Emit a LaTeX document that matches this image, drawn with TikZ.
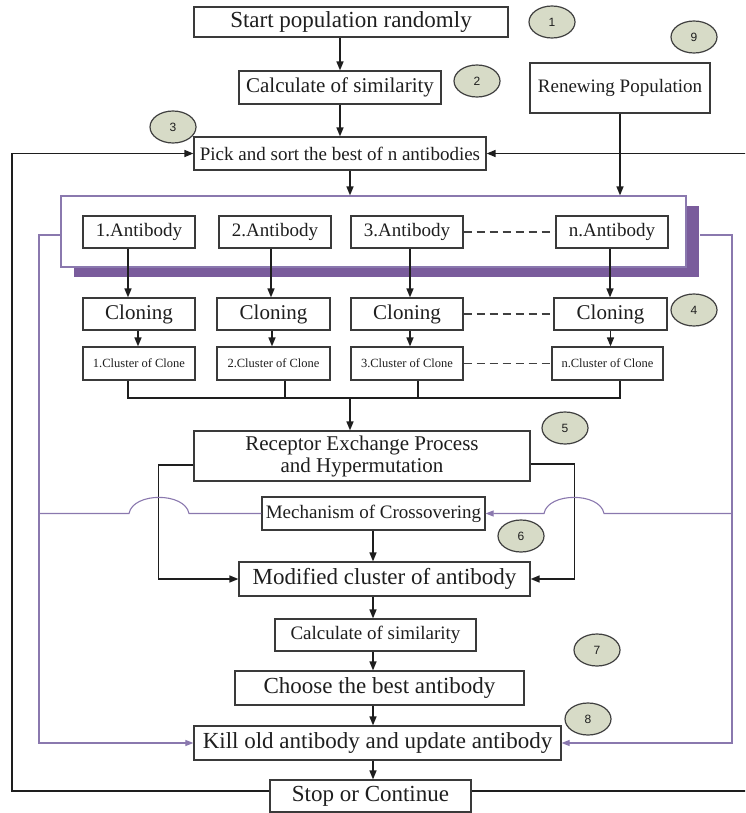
\documentclass[tikz,border=0pt]{standalone}
\usepackage{fontspec}
\setmainfont{Liberation Serif}
\newfontfamily\numfont{Liberation Sans}
\usetikzlibrary{arrows.meta,shapes.geometric}

\definecolor{ink}{HTML}{1E1E1E}
\definecolor{boxline}{HTML}{3A3A3A}
\definecolor{lilac}{HTML}{8A78AE}
\definecolor{plum}{HTML}{7A5C9C}
\definecolor{sage}{HTML}{D7DBC7}

\begin{document}
\begin{tikzpicture}[x=1pt,y=-1pt,
  box/.style={draw=boxline, line width=1.2pt, fill=white, inner sep=0pt,
              align=center, text=ink},
  fs/.style={font=\fontsize{#1}{#1}\selectfont},
  link/.style={draw=ink, line width=1.5pt},
  flow/.style={link, -{Triangle[length=9pt,width=7pt]}},
  plink/.style={draw=lilac, line width=1.1pt},
  parrow/.style={plink, -{Triangle[length=8pt,width=6pt]}},
  dashlink/.style={draw=ink!85, line width=1.1pt, dash pattern=on 8pt off 5pt},
  badge/.style={ellipse, draw=ink!85, line width=1.2pt, fill=sage, text=ink,
                minimum width=46pt, minimum height=32pt, inner sep=0pt,
                font=\numfont\fontsize{12}{12}\selectfont}
]
\useasboundingbox (0,0) rectangle (745,813);
\clip (0,0) rectangle (745,813);

% ---- top of the flow
\node[box, fs=23, minimum width=314pt, minimum height=30pt] (start) at (351,22) {Start population randomly};
\node[box, fs=21, minimum width=202pt, minimum height=33pt] (sim1) at (340,87.5) {Calculate of similarity};
\node[box, fs=19, minimum width=180pt, minimum height=50pt] (renew) at (620,88) {Renewing Population};
\node[box, fs=19, minimum width=292pt, minimum height=33pt] (pick) at (340,153.5) {Pick and sort the best of n antibodies};

% ---- antibody group with its shadow
\fill[plum] (74,206) rectangle (699,277);
\node[draw=lilac, line width=1.2pt, fill=white, minimum width=625pt, minimum height=71pt, inner sep=0pt] (grp) at (373.5,231.5) {};

\node[box, fs=19, minimum width=112pt, minimum height=32pt] (ab1) at (139,232) {1.Antibody};
\node[box, fs=19, minimum width=112pt, minimum height=32pt] (ab2) at (275,232) {2.Antibody};
\node[box, fs=19, minimum width=112pt, minimum height=32pt] (ab3) at (407,232) {3.Antibody};
\node[box, fs=19, minimum width=112pt, minimum height=32pt] (abn) at (612,232) {n.Antibody};

\node[box, fs=21, minimum width=112pt, minimum height=32pt] (cl1) at (139,314) {Cloning};
\node[box, fs=21, minimum width=113pt, minimum height=32pt] (cl2) at (273.5,314) {Cloning};
\node[box, fs=21, minimum width=112pt, minimum height=32pt] (cl3) at (407,314) {Cloning};
\node[box, fs=21, minimum width=113pt, minimum height=32pt] (cln) at (610.5,314) {Cloning};

\node[box, fs=12.5, minimum width=112pt, minimum height=33pt] (cc1) at (139,363.5) {1.Cluster of Clone};
\node[box, fs=12.5, minimum width=113pt, minimum height=33pt] (cc2) at (273.5,363.5) {2.Cluster of Clone};
\node[box, fs=12.5, minimum width=112pt, minimum height=33pt] (cc3) at (407,363.5) {3.Cluster of Clone};
\node[box, fs=12.5, minimum width=111pt, minimum height=33pt] (ccn) at (607.5,363.5) {n.Cluster of Clone};

% ---- lower part of the flow
\node[box, font=\fontsize{21}{22}\selectfont, minimum width=336pt, minimum height=50pt] (rec) at (362,456) {Receptor Exchange Process\\and Hypermutation};
\node[box, fs=19, minimum width=223pt, minimum height=33pt] (mech) at (373.5,513.5) {Mechanism of Crossovering};
\node[box, fs=23, minimum width=291pt, minimum height=34pt] (mod) at (384.5,579) {Modified cluster of antibody};
\node[box, fs=19, minimum width=201pt, minimum height=32pt] (sim2) at (375.5,635) {Calculate of similarity};
\node[box, fs=23, minimum width=289pt, minimum height=34pt] (choose) at (379.5,688) {Choose the best antibody};
\node[box, fs=23, minimum width=367pt, minimum height=34pt] (kill) at (377.5,743) {Kill old antibody and update antibody};
\node[box, fs=23, minimum width=201pt, minimum height=32pt] (stop) at (370.5,796) {Stop or Continue};

% ---- step numbers
\node[badge] (n1) at (552,22) {1};
\node[badge] (n2) at (477,81) {2};
\node[badge] (n3) at (173,127) {3};
\node[badge] (n4) at (694,310) {4};
\node[badge] (n5) at (565,428) {5};
\node[badge] (n6) at (521,536) {6};
\node[badge] (n7) at (597,650) {7};
\node[badge] (n8) at (588,719) {8};
\node[badge] (n9) at (694,37) {9};

% ---- helper points
\coordinate (spine) at (373,0);
\coordinate (mj) at (350,398);
\coordinate (pl) at (39,235);
\coordinate (pr) at (732,235);
\coordinate (shr) at (700,235);

% ---- main arrows
\draw[flow] (start.south -| sim1.south) -- (sim1.north);
\draw[flow] (sim1.south) -- (sim1.south |- pick.north);
\draw[flow] ([xshift=10pt]pick.south) -- ([xshift=10pt]pick.south |- grp.north);
\draw[flow] (renew.south) -- (renew.south |- grp.north);

\draw[flow] ([xshift=-11pt]ab1.south) -- ([xshift=-11pt]ab1.south |- cl1.north);
\draw[flow] ([xshift=-4pt]ab2.south) -- ([xshift=-4pt]ab2.south |- cl2.north);
\draw[flow] ([xshift=3pt]ab3.south) -- ([xshift=3pt]ab3.south |- cl3.north);
\draw[flow] ([xshift=-2pt]abn.south) -- ([xshift=-2pt]abn.south |- cln.north);

\draw[flow] ([xshift=-1pt]cl1.south) -- ([xshift=-1pt]cl1.south |- cc1.north);
\draw[flow] ([xshift=-1.5pt]cl2.south) -- ([xshift=-1.5pt]cl2.south |- cc2.north);
\draw[flow] ([xshift=3pt]cl3.south) -- ([xshift=3pt]cl3.south |- cc3.north);
\draw[flow] (cln.south) -- (cln.south |- ccn.north);

\draw[dashlink] (ab3.east) -- (abn.west);
\draw[dashlink] (cl3.east) -- (cln.west);
\draw[dashlink] (cc3.east) -- (ccn.west);

% clusters merge into one line
\draw[link] ([xshift=-11pt]cc1.south) |- (mj) -| ([xshift=12.5pt]ccn.south);
\draw[link] ([xshift=11.5pt]cc2.south) -- ([xshift=11.5pt]cc2.south |- mj);
\draw[link] ([xshift=11pt]cc3.south) -- ([xshift=11pt]cc3.south |- mj);
\draw[flow] (mj) -- (mj |- rec.north);

% receptor exchange feeds the modified cluster from both sides
\draw[flow] ([yshift=-9pt]rec.west) -- ++(-35,0) |- (mod.west);
\draw[flow] ([yshift=-8pt]rec.east) -- ++(44,0) |- (mod.east);

\draw[flow] (spine |- mech.south) -- (spine |- mod.north);
\draw[flow] (spine |- mod.south) -- (spine |- sim2.north);
\draw[flow] (spine |- sim2.south) -- (spine |- choose.north);
\draw[flow] (spine |- choose.south) -- (spine |- kill.north);
\draw[flow] (spine |- kill.south) -- (spine |- stop.north);

% outer loop back to the selection step
\draw[flow] ([yshift=5pt]stop.west) -| (12,153.5) -- (pick.west);
\draw[flow] ([yshift=5pt]stop.east) -- (760,791) |- (pick.east);

% ---- purple links from the antibody group
\draw[parrow] (grp.west |- pl) -- (pl) |- (kill.west);
\draw[parrow] (shr) -- (pr) |- (kill.east);
\draw[plink] (pl |- mech.west) -- (129,513.5) .. controls (133,492) and (185,492) .. (189,513.5) -- (mech.west);
\draw[parrow] (pr |- mech.east) -- (604,513.5) .. controls (600,492) and (548,492) .. (544,513.5) -- (mech.east);
\end{tikzpicture}
\end{document}
